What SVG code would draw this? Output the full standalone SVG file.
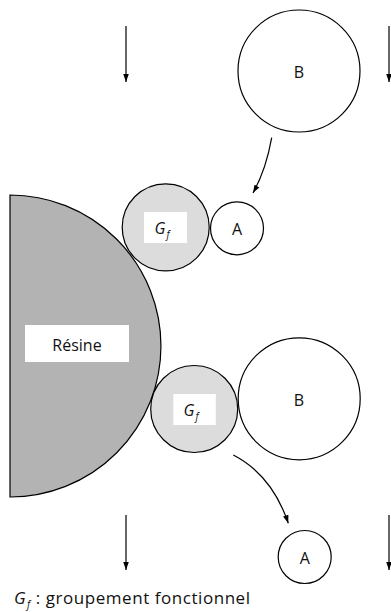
<svg xmlns="http://www.w3.org/2000/svg" width="391" height="612" viewBox="0 0 391 612">
<defs>
<marker id="ah" viewBox="0 0 10 10" refX="10" refY="5" markerWidth="8" markerHeight="8" markerUnits="userSpaceOnUse" orient="auto">
<path d="M0,1.5 L10,5 L0,8.5 Z" fill="#000"/>
</marker>
</defs>
<style>
text{font-family:"Open Sans","Noto Sans",sans-serif;font-size:16px;fill:#111;}
.c{stroke:#000;stroke-width:1.2;fill:#fff;}
.g{stroke:#000;stroke-width:1.2;fill:#dcdcdc;}
.lb{fill:#fff;stroke:none;}
.ln{stroke:#000;stroke-width:1.2;fill:none;marker-end:url(#ah);}
.it{font-style:italic;}
.sub{font-size:10px;font-style:italic;}
.cap{font-size:17px;}
</style>
<rect width="391" height="612" fill="#fff"/>
<g id="resine">
<path d="M10,195 A151,151 0 0 1 10,497 Z" fill="#b3b3b3" stroke="#000" stroke-width="1.2"/>
<rect class="lb" x="25" y="325" width="104" height="37"/>
<text x="77" y="350.5" text-anchor="middle">Résine</text>
</g>
<g id="B1">
<circle class="c" cx="299" cy="71" r="61"/>
<text x="299" y="78" text-anchor="middle">B</text>
</g>
<g id="Gf1">
<circle class="g" cx="165.7" cy="227.3" r="43.5"/>
<rect class="lb" x="144" y="212" width="43" height="31"/>
<text x="162" y="234" text-anchor="middle"><tspan class="it">G</tspan><tspan class="sub" dx="1" dy="4">f</tspan></text>
</g>
<g id="A1">
<circle class="c" cx="237" cy="228.3" r="26.5"/>
<text x="237" y="234.5" text-anchor="middle">A</text>
</g>
<g id="Gf2">
<circle class="g" cx="194.2" cy="409" r="43.5"/>
<rect class="lb" x="173.3" y="394" width="42.5" height="31"/>
<text x="191" y="416" text-anchor="middle"><tspan class="it">G</tspan><tspan class="sub" dx="1" dy="4">f</tspan></text>
</g>
<g id="B2">
<circle class="c" cx="299.2" cy="398.8" r="61"/>
<text x="299" y="406" text-anchor="middle">B</text>
</g>
<g id="A2">
<circle class="c" cx="304.7" cy="557" r="26.5"/>
<text x="304.7" y="563.5" text-anchor="middle">A</text>
</g>
<g id="connectors">
<line class="ln" x1="126" y1="26" x2="126" y2="82"/>
<line class="ln" x1="389" y1="26" x2="389" y2="82"/>
<path class="ln" d="M271.7,137.7 Q266,170 253,193"/>
<path class="ln" d="M233.3,455 Q272,475 288.3,523.3"/>
<line class="ln" x1="126" y1="515" x2="126" y2="570"/>
<line class="ln" x1="389" y1="515" x2="389" y2="570"/>
</g>
<g id="caption">
<text class="cap" x="14" y="604" textLength="236" lengthAdjust="spacing"><tspan class="it">G</tspan><tspan class="sub" dx="1" dy="4">f</tspan><tspan dy="-4"> : groupement fonctionnel</tspan></text>
</g>
</svg>
